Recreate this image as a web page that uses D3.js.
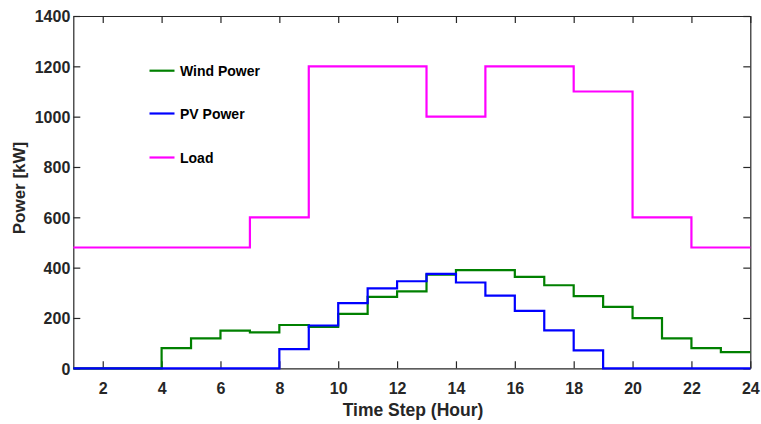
<!DOCTYPE html>
<html>
<head>
<meta charset="utf-8">
<script src="https://cdn.jsdelivr.net/npm/d3@7"></script>
<style>
  body { margin: 0; background: #fff; }
  svg text { font-family: "Liberation Sans", Arial, sans-serif; font-weight: bold; }
</style>
</head>
<body>
<svg id="canvas" width="761" height="424"></svg>
<script>
// hourly values (stairs: value i holds from hour i to i+1)
var hours = d3.range(1, 25)
var windPower = [0, 0, 0, 80, 119, 150, 143, 172, 165, 216, 284, 306, 372, 390, 390, 363, 330, 287, 244, 199, 119, 80, 64, 64]
var pvPower = [0, 0, 0, 0, 0, 0, 0, 76, 170, 259, 318, 346, 375, 341, 289, 228, 151, 71, 0, 0, 0, 0, 0, 0]
var loadPower = [480, 480, 480, 480, 480, 480, 600, 600, 1200, 1200, 1200, 1200, 1000, 1000, 1200, 1200, 1200, 1100, 1100, 600, 600, 480, 480, 480]
var xTicks = [2, 4, 6, 8, 10, 12, 14, 16, 18, 20, 22, 24]
var yTicks = [0, 200, 400, 600, 800, 1000, 1200, 1400]

var seriesNames = ["Wind Power", "PV Power", "Load"]
var seriesColors = ["#008000", "#0000ff", "#ff00ff"]

const plotL = 73.3, plotR = 750.3, plotT = 16, plotB = 368.3
const ink = "#262626"

var svg = d3.select("#canvas")

var x = d3.scaleLinear().domain([1, 24]).range([plotL, plotR])
var y = d3.scaleLinear().domain([0, 1400]).range([plotB, plotT])

// axes, ticks pointing inward on all sides
var gx = svg.append("g").attr("transform", "translate(0," + plotB + ")")
        .call(d3.axisBottom(x).tickValues(xTicks).tickFormat(d3.format("d")).tickSizeInner(-7).tickSizeOuter(0).tickPadding(14))
var gxTop = svg.append("g").attr("transform", "translate(0," + plotT + ")")
        .call(d3.axisTop(x).tickValues(xTicks).tickSizeInner(-7).tickSizeOuter(0).tickFormat(""))
var gy = svg.append("g").attr("transform", "translate(" + plotL + ",0)")
        .call(d3.axisLeft(y).tickValues(yTicks).tickFormat(d3.format("d")).tickSizeInner(-7).tickSizeOuter(0).tickPadding(3))
var gyRight = svg.append("g").attr("transform", "translate(" + plotR + ",0)")
        .call(d3.axisRight(y).tickValues(yTicks).tickSizeInner(-7).tickSizeOuter(0).tickFormat(""))

svg.selectAll(".domain").attr("stroke", ink).attr("stroke-width", 1.2)
svg.selectAll(".tick line").attr("stroke", ink).attr("stroke-width", 1.2)
svg.selectAll(".tick text").attr("fill", ink).style("font-size", "16px")
gy.selectAll(".tick text").attr("dy", "0.36em")

// stairs
var line = d3.line()
        .x(function (d) { return x(d[0]) })
        .y(function (d) { return y(d[1]) })
        .curve(d3.curveStepAfter)

var allSeries = [windPower, pvPower, loadPower]
allSeries.forEach(function (vals, k) {
        svg.append("path")
        .datum(hours.map(function (h, i) { return [h, vals[i]] }))
        .attr("fill", "none")
        .attr("stroke", seriesColors[k])
        .attr("stroke-width", 2.2)
        .attr("d", line)
})

// legend
var legY = [70.7, 113.5, 157.5]
seriesNames.forEach(function (name, k) {
        svg.append("line")
        .attr("x1", 149.5).attr("x2", 174.5)
        .attr("y1", legY[k]).attr("y2", legY[k])
        .attr("stroke", seriesColors[k]).attr("stroke-width", 2.2)
        svg.append("text")
        .attr("x", 180).attr("y", legY[k] + 5)
        .style("font-size", "14px")
        .attr("fill", "#000")
        .text(name)
})

// axis labels
svg.append("text")
        .attr("x", 413)
        .attr("y", 416)
        .attr("text-anchor", "middle")
        .attr("fill", ink)
        .style("font-size", "17.5px")
        .text("Time Step (Hour)")

svg.append("text")
        .attr("transform", "translate(25,188) rotate(-90)")
        .attr("text-anchor", "middle")
        .attr("fill", ink)
        .style("font-size", "17px")
        .text("Power [kW]")
</script>
</body>
</html>
